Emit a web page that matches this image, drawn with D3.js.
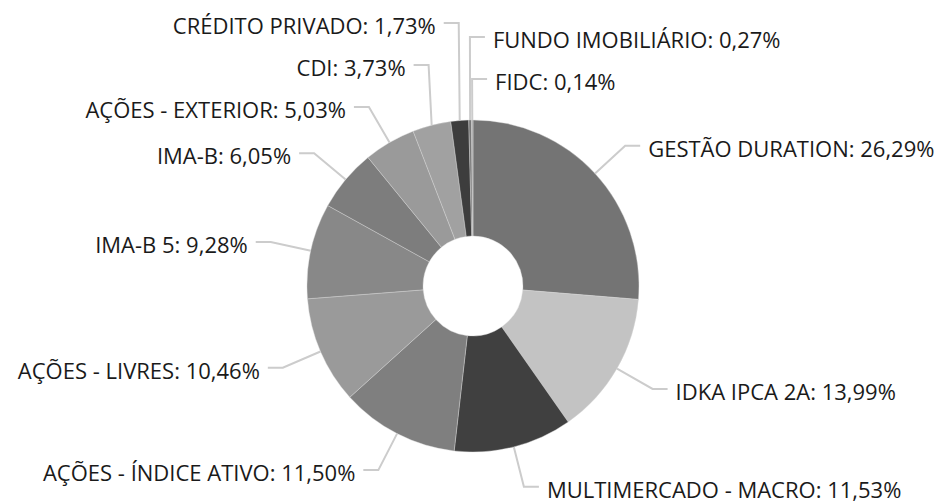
<!DOCTYPE html>
<html>
<head>
<meta charset="utf-8">
<script src="https://cdn.jsdelivr.net/npm/d3@7"></script>
<style>
  html, body { margin: 0; padding: 0; background: #fff; }
  svg { display: block; }
  text { font-family: "Open Sans", sans-serif; font-size: 22px; fill: #1a1a1a; }
</style>
</head>
<body>
<svg id="chart" width="938" height="501"></svg>
<script>
const categories = [
  "GESTÃO DURATION", "IDKA IPCA 2A", "MULTIMERCADO - MACRO", "AÇÕES - ÍNDICE ATIVO",
  "AÇÕES - LIVRES", "IMA-B 5", "IMA-B", "AÇÕES - EXTERIOR", "CDI",
  "CRÉDITO PRIVADO", "FUNDO IMOBILIÁRIO", "FIDC"
];
const values = [26.29, 13.99, 11.53, 11.50, 10.46, 9.28, 6.05, 5.03, 3.73, 1.73, 0.27, 0.14];
const colors = [
  "#747474", "#c3c3c3", "#404040", "#7f7f7f",
  "#9a9a9a", "#888888", "#7d7d7d", "#9a9a9a", "#a1a1a1",
  "#3d3d3d", "#787878", "#a8a8a8"
];

const W = 938, H = 501;
const cx = 473, cy = 286, outerR = 166, innerR = 50, kneeR = 207;
const hLen = 15, gap = 8, minSpacing = 42;

const svg = d3.select("#chart");
const g = svg.append("g").attr("transform", `translate(${cx},${cy})`);

const data = categories.map((c, i) => ({ name: c, value: values[i], color: colors[i] }));
const pie = d3.pie().value(d => d.value).sort(null);
const arcs = pie(data);
const arc = d3.arc().innerRadius(innerR).outerRadius(outerR);

g.selectAll("path.slice")
  .data(arcs)
  .join("path")
  .attr("class", "slice")
  .attr("d", arc)
  .attr("fill", d => d.data.color)
  .attr("stroke", "#d8d8d8")
  .attr("stroke-width", 0.4);

const fmt = v => v.toFixed(2).replace(".", ",") + "%";

// label layout
const labels = arcs.map(a => {
  const mid = (a.startAngle + a.endAngle) / 2;
  const s = Math.sin(mid), c = -Math.cos(mid);
  const signed = mid > Math.PI ? mid - 2 * Math.PI : mid;
  return {
    a, mid, signed,
    side: s > -0.05 ? 1 : -1,
    sx: outerR * s, sy: outerR * c,
    kx: kneeR * s, ky: kneeR * c, ky0: kneeR * c
  };
});

[1, -1].forEach(side => {
  // order from bottom to top following the ring
  const group = labels.filter(l => l.side === side)
    .sort((p, q) => side > 0 ? q.signed - p.signed : p.mid - q.mid);
  for (let i = 1; i < group.length; i++) {
    const below = group[i - 1];
    if (group[i].ky > below.ky - minSpacing) group[i].ky = below.ky - minSpacing;
  }
});

labels.forEach(l => {
  if (Math.abs(l.ky - l.ky0) > 1) {
    // pushed label: keep knee x near the slice edge
    l.kx = l.sx + (l.kx - l.sx) * 0.3;
  }
});

const lineGen = d3.line();
g.selectAll("path.leader")
  .data(labels)
  .join("path")
  .attr("class", "leader")
  .attr("d", l => lineGen([[l.sx, l.sy], [l.kx, l.ky], [l.kx + l.side * hLen, l.ky]]))
  .attr("fill", "none")
  .attr("stroke", "#cccccc")
  .attr("stroke-width", 2);

g.selectAll("text.lbl")
  .data(labels)
  .join("text")
  .attr("class", "lbl")
  .attr("x", l => l.kx + l.side * (hLen + gap))
  .attr("y", l => l.ky + 11)
  .attr("text-anchor", l => l.side > 0 ? "start" : "end")
  .text(l => `${l.a.data.name}: ${fmt(l.a.data.value)}`);
</script>
</body>
</html>
